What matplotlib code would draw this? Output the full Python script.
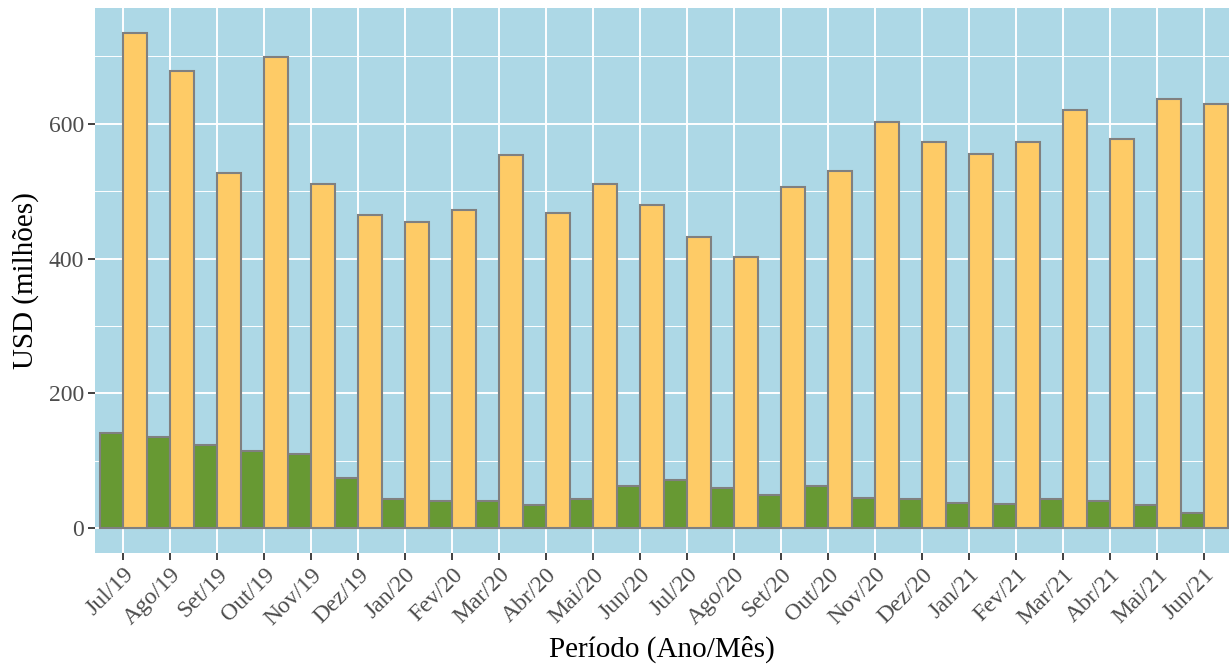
import numpy as np
import matplotlib
matplotlib.use("Agg")
import matplotlib.pyplot as plt
from matplotlib.ticker import MultipleLocator

# dados (USD milhões)
meses = ['Jul/19', 'Ago/19', 'Set/19', 'Out/19', 'Nov/19', 'Dez/19',
         'Jan/20', 'Fev/20', 'Mar/20', 'Abr/20', 'Mai/20', 'Jun/20',
         'Jul/20', 'Ago/20', 'Set/20', 'Out/20', 'Nov/20', 'Dez/20',
         'Jan/21', 'Fev/21', 'Mar/21', 'Abr/21', 'Mai/21', 'Jun/21']
verde = [142, 135, 124, 115, 110, 75, 44, 41, 40, 34, 44, 63,
         72, 60, 50, 62, 45, 43, 38, 36, 43, 40, 34, 22]
laranja = [735, 678, 527, 699, 510, 464, 455, 472, 554, 467, 510, 479,
           432, 403, 506, 530, 602, 573, 555, 573, 620, 577, 637, 630]

plt.rcParams['font.family'] = ['Liberation Serif', 'DejaVu Serif']

fig = plt.figure(figsize=(12.29, 6.66), dpi=100)
ax = fig.add_axes([95 / 1229, 1 - 553 / 666, 1 - 95 / 1229, 545 / 666])
ax.set_facecolor('#ADD8E6')

x = np.arange(1, len(meses) + 1)
ax.bar(x - 0.25, verde, width=0.5, color='#679933', edgecolor='#808080',
       linewidth=1.5, zorder=3)
ax.bar(x + 0.25, laranja, width=0.5, color='#FECB66', edgecolor='#808080',
       linewidth=1.5, zorder=3)

ax.set_xlim(0.4, 0.4 + 1134 / 47)
top = max(laranja)
ax.set_ylim(-0.05 * top, 1.05 * top)

ax.set_xticks(x)
ax.set_xticklabels(meses, rotation=45, ha='right', rotation_mode='anchor')
ax.yaxis.set_major_locator(MultipleLocator(200))
ax.yaxis.set_minor_locator(MultipleLocator(100))

ax.grid(which='major', color='white', linewidth=1.4, zorder=0)
ax.grid(which='minor', axis='y', color='white', linewidth=0.7, zorder=0)
ax.set_axisbelow(True)

for s in ax.spines.values():
    s.set_visible(False)

ax.tick_params(axis='both', which='major', length=5, width=1.3, color='#333333',
               labelsize=17, labelcolor='#4D4D4D', pad=3)
ax.tick_params(axis='y', which='minor', length=0)

ax.set_xlabel('Período (Ano/Mês)', fontsize=21, color='black', labelpad=5)
ax.set_ylabel('USD (milhões)', fontsize=21, color='black', labelpad=7)

fig.savefig('out.png', dpi=100)
